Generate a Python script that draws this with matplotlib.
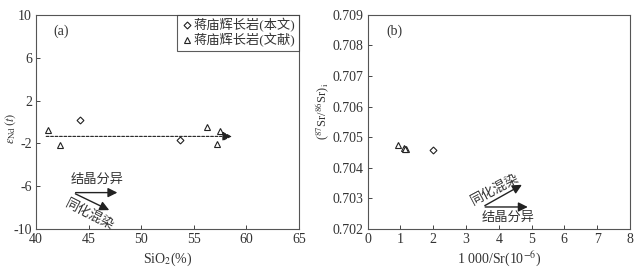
import numpy as np
import matplotlib.pyplot as plt

plt.rcParams['font.family'] = ['Liberation Serif', 'Noto Sans CJK SC']
plt.rcParams['font.size'] = 10
plt.rcParams['axes.unicode_minus'] = False
plt.rcParams['mathtext.fontset'] = 'stix'

# (a) SiO2 vs eNd(t)
sio2_this = [44.2, 53.7]
end_this = [0.2, -1.7]
sio2_lit = [41.1, 42.3, 56.3, 57.5, 57.2]
end_lit = [-0.75, -2.2, -0.45, -0.8, -2.1]

# (b) 1000/Sr vs (87Sr/86Sr)i
sr_this = [2.0]
srr_this = [0.70458]
sr_lit = [0.92, 1.12, 1.17, 1.14]
srr_lit = [0.70473, 0.70465, 0.70463, 0.70460]

lab_this = '蒋庙辉长岩(本文)'
lab_lit = '蒋庙辉长岩(文献)'

txt = '#333333'
fig = plt.figure(figsize=(6.44, 2.68), dpi=100)
ax1 = fig.add_axes([0.056, 0.1455, 0.408, 0.799])
ax2 = fig.add_axes([0.571, 0.1455, 0.407, 0.799])

mk = dict(mfc='white', mec='#222222', mew=0.8, ls='none')
ax1.plot(sio2_this, end_this, 'D', ms=3.5, label=lab_this, **mk)
ax1.plot(sio2_lit, end_lit, '^', ms=4.5, label=lab_lit, **mk)

# dashed trend arrow
ax1.annotate('', xy=(58.9, -1.35), xytext=(40.7, -1.35),
             arrowprops=dict(arrowstyle='-|>', color='#222222', lw=0.8,
                             ls=(0, (2.5, 1.5)), mutation_scale=14))
ax1.annotate('', xy=(48.0, -6.6), xytext=(43.5, -6.6),
             arrowprops=dict(arrowstyle='-|>', color='#222222', lw=1.0, mutation_scale=14))
ax1.annotate('', xy=(47.2, -8.35), xytext=(43.5, -6.6),
             arrowprops=dict(arrowstyle='-|>', color='#222222', lw=1.0, mutation_scale=14))
ax1.text(45.8, -5.4, '结晶分异', ha='center', va='center', color=txt, fontsize=9.5)
ax1.text(45.1, -8.7, '同化混染', ha='center', va='center', color=txt,
         fontsize=9.5, rotation=-27)
ax1.text(0.065, 0.925, '(a)', transform=ax1.transAxes, ha='left', va='center',
         color=txt, fontsize=10)

ax1.set_xlim(40, 65)
ax1.set_ylim(-10, 10)
ax1.set_xticks([40, 45, 50, 55, 60, 65])
ax1.set_yticks([10, 6, 2, -2, -6, -10])
ax1.set_xlabel('SiO$_2$(%)', color=txt, labelpad=3)
ax1.set_ylabel(r'$\varepsilon_{\rm Nd}\,(t)$', color=txt, fontsize=9)
ax1.yaxis.set_label_coords(-0.068, 0.47)

leg = ax1.legend(loc='upper right', frameon=True, fancybox=False, edgecolor='#333333',
                 borderaxespad=0, handletextpad=0.1, handlelength=0.9,
                 borderpad=0.25, labelspacing=0.1, fontsize=9.5)
leg.get_frame().set_linewidth(0.8)
for t in leg.get_texts():
    t.set_color(txt)

# (b)
ax2.plot(sr_this, srr_this, 'D', ms=3.5, **mk)
ax2.plot(sr_lit, srr_lit, '^', ms=4.5, **mk)
ax2.annotate('', xy=(4.97, 0.70272), xytext=(3.5, 0.70272),
             arrowprops=dict(arrowstyle='-|>', color='#222222', lw=1.0, mutation_scale=14))
ax2.annotate('', xy=(4.78, 0.70349), xytext=(3.5, 0.70272),
             arrowprops=dict(arrowstyle='-|>', color='#222222', lw=1.0, mutation_scale=14))
ax2.text(4.28, 0.70238, '结晶分异', ha='center', va='center', color=txt, fontsize=9.5)
ax2.text(3.88, 0.70328, '同化混染', ha='center', va='center', color=txt,
         fontsize=9.5, rotation=28)
ax2.text(0.07, 0.925, '(b)', transform=ax2.transAxes, ha='left', va='center',
         color=txt, fontsize=10)

ax2.set_xlim(0, 8)
ax2.set_ylim(0.702, 0.709)
ax2.set_xticks(range(0, 9))
ax2.set_yticks(np.arange(0.702, 0.7091, 0.001))
ax2.set_yticklabels(['0.702', '0.703', '0.704', '0.705', '0.706', '0.707', '0.708', '0.709'])
ax2.set_xlabel('1 000/Sr(10$^{-6}$)', color=txt, labelpad=3)
ax2.set_ylabel(r'($^{87}$Sr/$^{86}$Sr)$_{\rm i}$', color=txt, fontsize=9)
ax2.yaxis.set_label_coords(-0.135, 0.55)

for ax in (ax1, ax2):
    ax.tick_params(direction='in', length=3, width=0.7, colors='#444444',
                   labelcolor=txt, labelsize=10, pad=3)
    for s in ax.spines.values():
        s.set_color('#555555')
        s.set_linewidth(0.8)

fig.savefig('out.png', dpi=100)
